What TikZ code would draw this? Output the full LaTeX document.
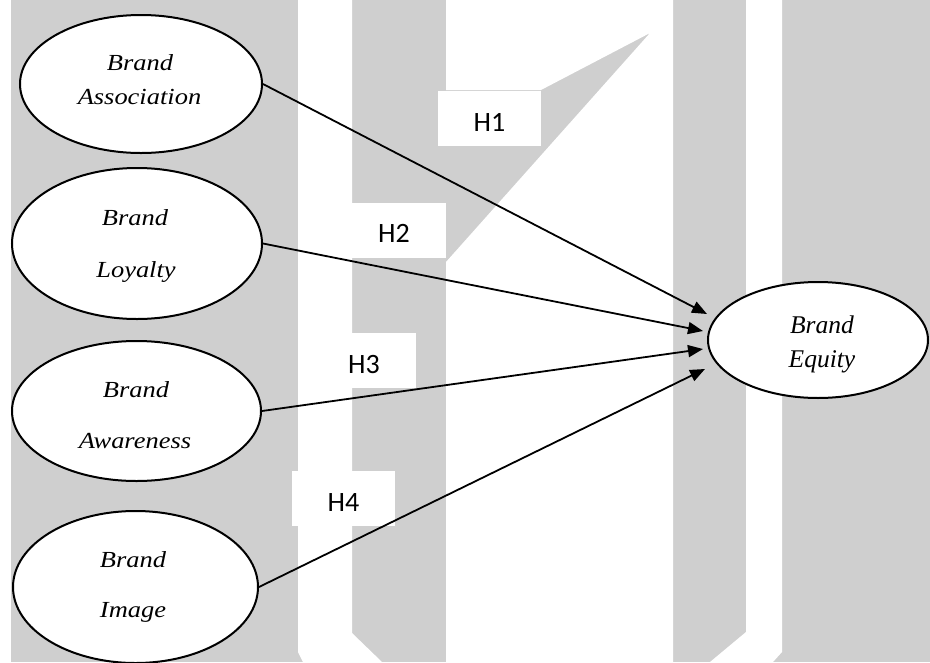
\documentclass[tikz,border=0pt]{standalone}
\usepackage{fontspec}
\usetikzlibrary{arrows.meta,shapes.geometric}
\newfontfamily\sidefam{Liberation Serif}[FakeStretch=1.15]
\newfontfamily\eqfam{Liberation Serif}
\newfontfamily\hypfam{Carlito}
\definecolor{wmgray}{RGB}{207,207,207}

\begin{document}
\begin{tikzpicture}[x=1pt,y=-1pt,
  construct/.style={ellipse, draw=black, line width=2pt, fill=white, inner sep=0pt},
  sidetext/.style={anchor=base, inner sep=0pt, font=\fontsize{23}{27}\sidefam\itshape},
  eqtext/.style={anchor=base, inner sep=0pt, font=\fontsize{25.5}{30}\eqfam\itshape},
  hyp/.style={rectangle, fill=white, minimum width=103pt, minimum height=55pt,
    inner sep=0pt, text height=25pt, text depth=0pt, font=\fontsize{28}{32}\hypfam},
  link/.style={line width=1.8pt, -{Triangle[length=15pt,width=12pt]}}
]
\useasboundingbox (0,0) rectangle (930,662);

% page background with the pale watermark bands
\fill[white] (0,0) rectangle (930,662);
\fill[wmgray] (11,0) rectangle (930,662);
\fill[white] (298,0) -- (352,0) -- (352,633) -- (382,662) -- (303,662) -- (298,652) -- cycle;
\fill[white] (446,0) -- (673,0) -- (673,662) -- (446,662) -- (446,262)
  -- (650,33) -- (541,90) -- (446,90) -- cycle;
\fill[white] (746,0) -- (782,0) -- (782,652) -- (773,662) -- (710,662) -- (746,632) -- cycle;

% hypothesis labels
\node[hyp] (h1) at (489.5,118.5) {H1};
\node[hyp] (h2) at (394,230) {H2};
\node[hyp] (h3) at (364,360.5) {H3};
\node[hyp] (h4) at (343.5,498.5) {H4};

% constructs
\node[construct, minimum width=242pt, minimum height=138pt] (ba) at (141,84) {};
\node[construct, minimum width=250pt, minimum height=151pt] (bl) at (137,243.5) {};
\node[construct, minimum width=249pt, minimum height=140pt] (bw) at (136.5,411) {};
\node[construct, minimum width=245pt, minimum height=152pt] (bi) at (135.5,587) {};
\node[construct, minimum width=220pt, minimum height=116pt] (be) at (818,340) {};

\node[sidetext] (ba1) at (140,70) {Brand};
\node[sidetext] (ba2) at (139.5,104) {Association};
\node[sidetext] (bl1) at (135,225) {Brand};
\node[sidetext] (bl2) at (136,277) {Loyalty};
\node[sidetext] (bw1) at (136,397) {Brand};
\node[sidetext] (bw2) at (135,448) {Awareness};
\node[sidetext] (bi1) at (133,567) {Brand};
\node[sidetext] (bi2) at (133,617) {Image};
\node[eqtext] (be1) at (822,333) {Brand};
\node[eqtext] (be2) at (822,367) {Equity};

% arrow tips just left of Brand Equity
\coordinate (t1) at (707,314);
\coordinate (t2) at (703,331);
\coordinate (t3) at (703,349);
\coordinate (t4) at (705,369);

\draw[link] (ba.east) -- (t1);
\draw[link] (bl.east) -- (t2);
\draw[link] (bw.east) -- (t3);
\draw[link] (bi.east) -- (t4);
\end{tikzpicture}
\end{document}
